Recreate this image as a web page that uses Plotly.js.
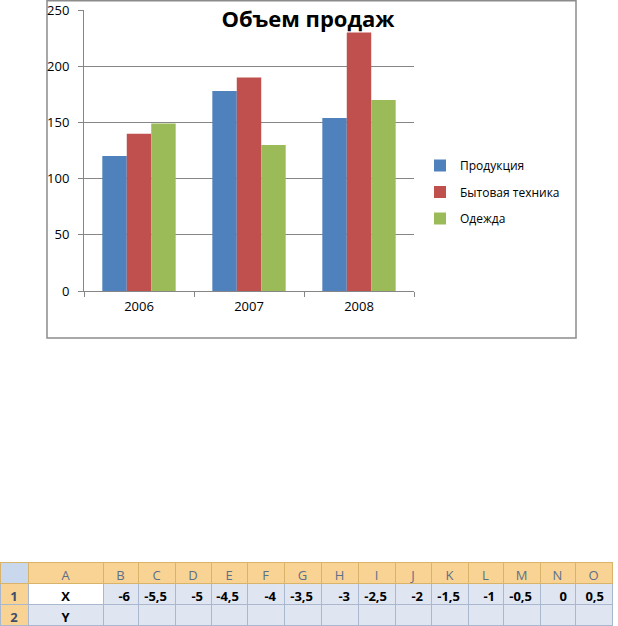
<!DOCTYPE html>
<html>
<head>
<meta charset="utf-8">
<script src="https://cdn.plot.ly/plotly-3.0.1.min.js"></script>
<style>html,body{margin:0;padding:0;background:#fff;}#chart{width:618px;height:626px;}</style>
</head>
<body>
<div id="chart"></div>
<script>
// ---- Chart data ----
const years = ['2006', '2007', '2008'];
const produkcia = [120, 178, 154];
const bytovaya = [140, 190, 230];
const odezhda = [149, 130, 170];
const seriesNames = ['Продукция', 'Бытовая техника', 'Одежда'];
const chartTitle = 'Объем продаж';

// ---- Spreadsheet data ----
const columnLetters = ['', 'A', 'B', 'C', 'D', 'E', 'F', 'G', 'H', 'I', 'J', 'K', 'L', 'M', 'N', 'O'];
const rowNumbers = ['1', '2'];
const rowLabels = ['X', 'Y'];
const xValues = [-6, -5.5, -5, -4.5, -4, -3.5, -3, -2.5, -2, -1.5, -1, -0.5, 0, 0.5];
const columnWidths = [28, 75, 35, 37, 36, 36, 37, 37, 37, 37, 36, 37, 35, 37, 35, 37];

const W = 618, H = 626;
const px = v => v / W;
const py = v => 1 - v / H;

const FONT = 'Open Sans, DejaVu Sans, sans-serif';
const colors = ['#4F81BD', '#C0504D', '#9BBB59'];

const barTraces = [produkcia, bytovaya, odezhda].map((vals, i) => ({
  type: 'bar',
  x: years,
  y: vals,
  name: seriesNames[i],
  marker: {color: colors[i], line: {width: 0}},
  legendgroup: 'g' + i,
  hoverinfo: 'x+y+name'
}));

const fmt = v => String(v).replace('.', ',');
const lavender = '#DFE6F2';
const cellValues = [rowNumbers, rowLabels].concat(xValues.map(v => [fmt(v), '']));
const cellFill = [['#F9D393', '#F9D393'], ['#FFFFFF', lavender]].concat(xValues.map(() => [lavender, lavender]));
const cellAlign = ['center', 'center'].concat(xValues.map(() => 'right'));
const cellFontColor = [['#3E4F6A', '#3E4F6A'], ['#000', '#000']].concat(xValues.map(() => ['#000', '#000']));

const tableTrace = {
  type: 'table',
  domain: {x: [0, px(612)], y: [0, py(562)]},
  columnwidth: columnWidths,
  header: {
    values: columnLetters,
    height: 21,
    align: 'center',
    fill: {color: ['#C9D8EC'].concat(columnLetters.slice(1).map(() => '#F9D393'))},
    line: {color: '#D9B36A', width: 1},
    font: {family: FONT, size: 13, color: '#5C6F8A'}
  },
  cells: {
    values: cellValues,
    height: 21,
    align: cellAlign,
    fill: {color: cellFill},
    line: {color: '#A9B8CF', width: 1},
    font: {family: FONT, size: 13, color: cellFontColor, weight: 'bold'}
  },
  hoverinfo: 'skip'
};

const layout = {
  width: W, height: H,
  margin: {l: 0, r: 0, t: 0, b: 0},
  paper_bgcolor: '#fff',
  plot_bgcolor: 'rgba(0,0,0,0)',
  showlegend: true,
  barmode: 'group',
  bargap: 0.333,
  bargroupgap: 0,
  font: {family: FONT, size: 13, color: '#000'},
  title: {
    text: '<b>' + chartTitle + '</b>',
    font: {family: FONT, size: 22, color: '#000'},
    x: px(308), xanchor: 'center', xref: 'paper',
    y: py(19), yanchor: 'middle', yref: 'paper'
  },
  xaxis: {
    domain: [px(84), px(414)],
    type: 'category',
    anchor: 'y',
    showline: true, linecolor: '#868686', linewidth: 1,
    ticks: 'outside', ticklen: 5, tickcolor: '#868686', tickson: 'boundaries',
    showgrid: false,
    tickfont: {family: FONT, size: 13, color: '#000'},
    ticklabelstandoff: 3,
    fixedrange: true
  },
  yaxis: {
    domain: [py(291), py(10)],
    range: [0, 250],
    tickvals: [0, 50, 100, 150, 200, 250],
    anchor: 'x',
    showline: true, linecolor: '#868686', linewidth: 1,
    ticks: 'outside', ticklen: 5, tickcolor: '#868686',
    showgrid: true, gridcolor: '#868686', gridwidth: 1,
    zeroline: false,
    tickfont: {family: FONT, size: 13, color: '#000'},
    ticklabelstandoff: 6,
    fixedrange: true
  },
  legend: {
    x: px(420), xanchor: 'left',
    y: py(151), yanchor: 'top',
    font: {family: FONT, size: 12, color: '#000'},
    bgcolor: 'rgba(0,0,0,0)',
    traceorder: 'grouped',
    tracegroupgap: 7.5,
    itemwidth: 30
  },
  shapes: [
    {type: 'rect', xref: 'paper', yref: 'paper', x0: px(47), x1: px(576), y0: py(338), y1: py(0.8),
     line: {color: '#8C8C8C', width: 1.5}, fillcolor: 'rgba(0,0,0,0)', layer: 'below'}
  ]
};

Plotly.newPlot('chart', barTraces.concat([tableTrace]), layout, {displayModeBar: false, staticPlot: true});
</script>
</body>
</html>
